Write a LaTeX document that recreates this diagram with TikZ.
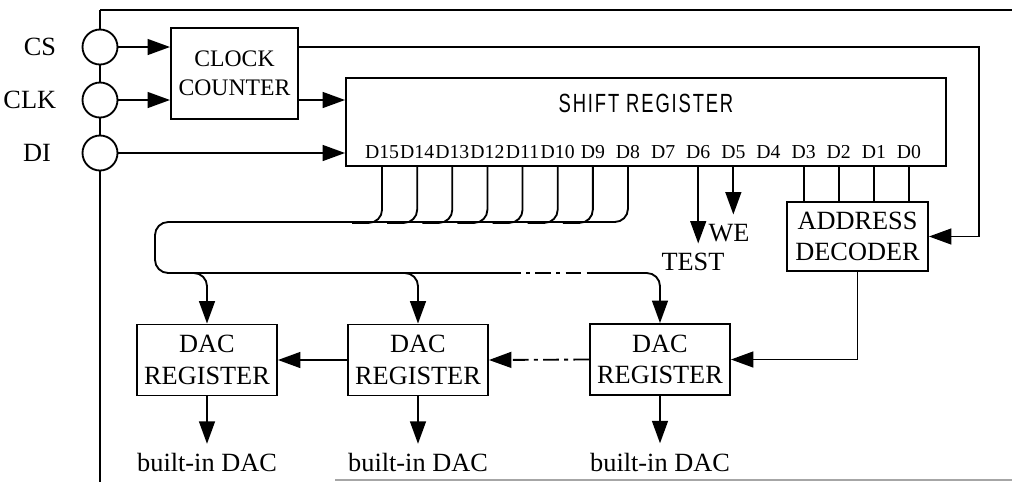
\documentclass[tikz,border=0pt]{standalone}
\usepackage{fontspec}
\setmainfont{Liberation Serif}
\setsansfont{Liberation Sans}
\usepackage{graphicx}
\usetikzlibrary{arrows.meta,positioning,calc}

\begin{document}
\begin{tikzpicture}[x=0.38pt, y=-0.38pt, >={Triangle[length=8.5pt,width=6pt]},
  line width=0.7pt, node distance=7pt]

  % ===== Styles =====
  \tikzset{
    box/.style={draw, inner sep=1pt, align=center},
    port/.style={circle, draw, fill=white, minimum size=13.3pt, inner sep=0pt},
    dacbox/.style={box, minimum width=53.2pt, minimum height=27pt},
    bus/.style={rounded corners=5pt},
    dashbus/.style={dash pattern=on 6pt off 2pt on 1.5pt off 2pt},
    bitlbl/.style={font=\fontsize{7.5}{9}\selectfont, inner sep=0pt}
  }

  \useasboundingbox (0,0) rectangle (1012,482);

  % ===== Chip outline (open on the right) =====
  \draw (100,10) -- (100,482);
  \draw (100,10) -- (1012,10);
  \draw[gray!70] (335,480) -- (1012,480);

  % ===== Pins =====
  \node[port] (pinCS)  at (100,47)  {};
  \node[port] (pinCLK) at (100,100) {};
  \node[port] (pinDI)  at (100,153) {};
  \node[left=6pt of pinCS]  {CS};
  \node[left=6pt of pinCLK] {CLK};
  \node[left=8pt of pinDI]  {DI};

  % ===== Blocks =====
  \node[box, font=\small, minimum width=48.3pt, minimum height=34.6pt] (ccnt) at (234.5,73.5) {CLOCK\\COUNTER};
  \node[box, minimum width=228pt, minimum height=33.4pt] (sr) at (646,122) {};
  \node[font=\sffamily] at (646,103) {\scalebox{0.7}[1]{\addfontfeature{LetterSpace=10}SHIFT REGISTER}};
  \node[box, minimum width=53.6pt, minimum height=26.2pt] (dec) at (857.5,236.5) {ADDRESS\\DECODER};

  \node[dacbox] (dacA) at (207,360)   {DAC\\REGISTER};
  \node[dacbox] (dacB) at (418,360)   {DAC\\REGISTER};
  \node[dacbox] (dacC) at (660,359.5) {DAC\\REGISTER};

  % bit labels inside the shift register
  \foreach \i in {0,...,15}
    \node[bitlbl] (d\i) at ({909-35.13*\i},152) {D\i};

  % ===== Inputs =====
  \draw[->] (pinCS) -- (ccnt.west |- pinCS);
  \draw[->] (pinCLK) -- (ccnt.west |- pinCLK);
  \draw[->] (pinDI) -- (sr.west |- pinDI);
  \draw[->] (ccnt.east |- pinCLK) -- (sr.west |- pinCLK);
  \coordinate (csturn) at (979,47);
  \draw[->] (ccnt.east |- pinCS) -- (csturn) |- (dec.east);

  % ===== Data bus D15..D8 =====
  \foreach \i in {9,...,15}
    \draw[bus] (sr.south -| d\i) |- +(-30,56);
  \draw[bus] (sr.south -| d8) |- (155,222) |- (505,273);
  \draw[dashbus] (505,273) -- (590,273);
  \draw[->, bus] (590,273) -| (dacC.north);
  \draw[->, bus] (170,273) -| (dacA.north);
  \draw[->, bus] (380,273) -| (dacB.north);

  % ===== D6, D5 and address bits =====
  \node (test) at (693,262) {TEST};
  \node (we) at (729,233) {WE};
  \draw[->] (sr.south -| d6) -- (d6 |- test.north);
  \draw[->] (sr.south -| d5) -- (d5 |- we.north);
  \foreach \i in {0,...,3}
    \draw (sr.south -| d\i) -- (dec.north -| d\i);

  % ===== DAC register chain =====
  \draw[->] (dec.south) |- (dacC.east);
  \draw[->, dashbus] (dacC.west) -- (dacB.east);
  \draw[->] (dacB.west) -- (dacA.east);

  % outputs
  \node[below=18pt of dacA] (outA) {built-in DAC};
  \node[below=18pt of dacB] (outB) {built-in DAC};
  \node[below=18pt of dacC] (outC) {built-in DAC};
  \draw[->] (dacA) -- (outA);
  \draw[->] (dacB) -- (outB);
  \draw[->] (dacC) -- (outC);

\end{tikzpicture}
\end{document}
